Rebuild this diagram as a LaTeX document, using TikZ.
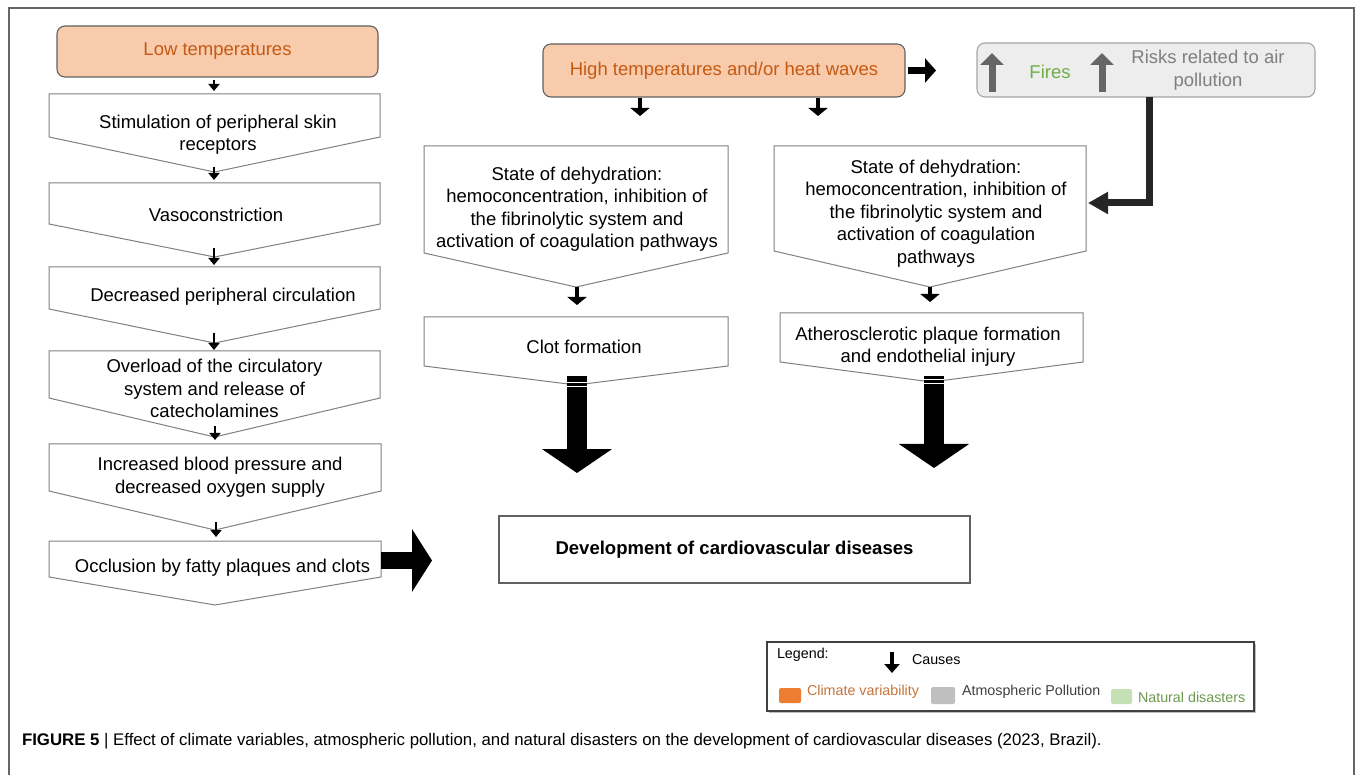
\documentclass[tikz,border=0pt]{standalone}
\usepackage{fontspec}
\setmainfont{Liberation Sans}
\usetikzlibrary{arrows.meta}
\definecolor{peach}{HTML}{F8CBAD}
\definecolor{orangetxt}{HTML}{C55A11}
\definecolor{boxgray}{HTML}{EDEDED}
\definecolor{firesgreen}{HTML}{70AD47}
\definecolor{riskgray}{HTML}{7F7F7F}
\definecolor{chevline}{HTML}{808080}
\definecolor{uparr}{HTML}{666666}
\definecolor{lshaft}{HTML}{262626}
\definecolor{legorange}{HTML}{ED7D31}
\definecolor{leggray}{HTML}{BFBFBF}
\definecolor{leggreen}{HTML}{C5E0B4}
\definecolor{legorangetxt}{HTML}{C5753A}
\definecolor{leggreentxt}{HTML}{6E9A50}
\newcommand\fsz{\fontsize{18.5}{22.5}\selectfont}
\newcommand\lsz{\fontsize{14.3}{17}\selectfont}
\newcommand\csz{\fontsize{16.8}{20}\selectfont}
% name, xl, xr, ytop, yside, ytip
\newcommand\mkchev[6]{%
  \coordinate (#1-nw) at (#2,#4);
  \coordinate (#1-ne) at (#3,#4);
  \coordinate (#1-se) at (#3,#5);
  \coordinate (#1-sw) at (#2,#5);
  \coordinate (#1-tip) at ({(#2+#3)/2},#6);
  \draw[chev] (#1-nw) -- (#1-ne) -- (#1-se) -- (#1-tip) -- (#1-sw) -- cycle;}
\begin{document}
\begin{tikzpicture}[x=1pt,y=-1pt,
  chev/.style={draw=chevline,line width=1pt,fill=white,line join=miter},
  txt/.style={inner sep=0pt,outer sep=0pt,align=center,font=\fsz},
  hotbox/.style={draw=black!62,line width=1.1pt,fill=peach,rounded corners=8pt,inner sep=0pt,outer sep=0pt,text=orangetxt,font=\fsz},
  graybox/.style={draw=black!35,line width=1.1pt,fill=boxgray,rounded corners=8pt,inner sep=0pt,outer sep=0pt},
  plainbox/.style={draw=black!62,line width=1.1pt,fill=white,inner sep=0pt,outer sep=0pt},
  smallarr/.style={draw=black,line width=2pt,-{Triangle[length=7pt,width=11pt]}},
  midarr/.style={draw=black,line width=4pt,-{Triangle[length=8pt,width=19pt]}},
  bigarr/.style={draw=black,line width=20pt,-{Triangle[length=24pt,width=69pt]}},
  uparrow/.style={draw=uparr,line width=7pt,-{Triangle[length=12pt,width=23pt]}},
  legtxt/.style={inner sep=0pt,outer sep=0pt,anchor=west,font=\lsz},
  frameline/.style={draw=black!60,line width=1.3pt}
]
\useasboundingbox (0,0) rectangle (1355,775);
\fill[white] (0,0) rectangle (1355,775);
\draw[frameline] (9,775) -- (9,8) -- (1354,8) -- (1354,775);

% ---------------- left column ----------------
\node[hotbox,minimum width=321pt,minimum height=51pt] (lt) at (217.5,51.5) {Low temperatures};
\mkchev{c1}{49}{380}{94}{137}{172}
\mkchev{c2}{49}{380}{183}{224}{257}
\mkchev{c3}{49}{380}{267}{309}{343}
\mkchev{c4}{49}{380}{351}{398}{437}
\mkchev{c5}{49}{381}{444}{491}{530}
\mkchev{c6}{49}{381}{541}{577}{605}
\node[txt] (t1) at (218,134.5) {Stimulation of peripheral skin\\receptors};
\node[txt] (t2) at (216,215) {Vasoconstriction};
\node[txt] (t3) at (223,297) {Decreased peripheral circulation};
\node[txt] (t4) at (214.5,388.5) {Overload of the circulatory\\system and release of\\catecholamines};
\node[txt] (t5) at (220,477) {Increased blood pressure and\\decreased oxygen supply};
\node[txt] (t6) at (222.5,568) {Occlusion by fatty plaques and clots};

\coordinate (a1s) at (214,80);  \coordinate (a1e) at (214,91);
\coordinate (a2s) at (214,167); \coordinate (a2e) at (214,180);
\coordinate (a3s) at (214,248); \coordinate (a3e) at (214,265);
\coordinate (a4s) at (214,333); \coordinate (a4e) at (214,350);
\coordinate (a5s) at (215,426); \coordinate (a5e) at (215,440);
\coordinate (a6s) at (216,522); \coordinate (a6e) at (216,537);
\foreach \i in {1,...,6} {\draw[smallarr] (a\i s) -- (a\i e);}

\coordinate (ras) at (381,560.5); \coordinate (rae) at (432,560.5);
\draw[draw=black,line width=17pt,-{Triangle[length=20pt,width=62pt]}] (ras) -- (rae);

% ---------------- middle ----------------
\node[hotbox,minimum width=362pt,minimum height=53pt] (ht) at (724,70.5) {High temperatures and/or heat waves};
\mkchev{ca}{424}{728}{146}{253}{287}
\mkchev{cb}{774}{1086}{146}{251}{287}
\mkchev{cc}{424}{728}{317}{366}{385}
\mkchev{cd}{780}{1083}{313}{362}{382}
\node[txt] (ta) at (577,209) {State of dehydration:\\hemoconcentration, inhibition of\\the fibrinolytic system and\\activation of coagulation pathways};
\node[txt] (tb) at (936,213.5) {State of dehydration:\\hemoconcentration, inhibition of\\the fibrinolytic system and\\activation of coagulation\\pathways};
\node[txt] (tc) at (584,347) {Clot formation};
\node[txt] (td) at (928,346.5) {Atherosclerotic plaque formation\\and endothelial injury};

\coordinate (m1s) at (640,98);  \coordinate (m1e) at (640,116);
\coordinate (m2s) at (818,98);  \coordinate (m2e) at (818,116);
\coordinate (m3s) at (577,287); \coordinate (m3e) at (577,305);
\coordinate (m4s) at (930,287); \coordinate (m4e) at (930,302);
\foreach \i in {1,...,4} {\draw[midarr] (m\i s) -- (m\i e);}

% right arrow to fires box
\coordinate (hrs) at (908,70.5); \coordinate (hre) at (936,70.5);
\draw[draw=black,line width=7pt,-{Triangle[length=11pt,width=24pt]}] (hrs) -- (hre);

% big down arrows
\coordinate (b1s) at (577,376); \coordinate (b1e) at (577,473);
\coordinate (b2s) at (934,376); \coordinate (b2e) at (934,468);
\draw[bigarr] (b1s) -- (b1e);
\draw[bigarr] (b2s) -- (b2e);
\draw[white,line width=0.8pt] (567,382) -- (587,382) (567,386.5) -- (587,386.5);
\draw[white,line width=0.8pt] (924,379) -- (944,379) (924,383.5) -- (944,383.5);

% fires box
\node[graybox,minimum width=338pt,minimum height=54pt] (fb) at (1146,70) {};
\coordinate (u1s) at (992,92); \coordinate (u1e) at (992,53);
\coordinate (u2s) at (1102,92); \coordinate (u2e) at (1102,53);
\draw[uparrow] (u1s) -- (u1e);
\draw[uparrow] (u2s) -- (u2e);
\node[txt,text=firesgreen] (fires) at (1050,72) {Fires};
\node[txt,text=riskgray] (risk) at (1208,70) {Risks related to air\\pollution};

% L-shaped arrow
\coordinate (ls) at (1149,97); \coordinate (lc) at (1149,203); \coordinate (le) at (1088,203);
\draw[draw=lshaft,line width=7pt,line join=miter,-{Triangle[length=20pt,width=21pt]}] (ls) -- (lc) -- (le);

% development box
\node[plainbox,minimum width=471pt,minimum height=67pt,font=\fsz\bfseries] (dev) at (734.5,549.5) {Development of cardiovascular diseases};

% ---------------- legend ----------------
\fill[black!25] (769,644) rectangle (1256,713);
\node[draw=black!75,line width=1.3pt,fill=white,minimum width=487pt,minimum height=69pt,inner sep=0pt,outer sep=0pt] (leg) at (1010.5,676.5) {};
\node[legtxt] (legl) at (777,655) {Legend:};
\coordinate (lgs) at (892,652); \coordinate (lge) at (892,673);
\draw[draw=black,line width=4pt,-{Triangle[length=9pt,width=15pt]}] (lgs) -- (lge);
\node[legtxt] (legc) at (912,660) {Causes};
\fill[legorange,rounded corners=2pt] (779,688) rectangle (801,703);
\fill[leggray,rounded corners=2pt] (931,687) rectangle (955,704);
\fill[leggreen,rounded corners=2pt] (1111,689) rectangle (1132,704);
\node[legtxt,text=legorangetxt] (lg1) at (807,692) {Climate variability};
\node[legtxt,text=black!75] (lg2) at (962,692) {Atmospheric Pollution};
\node[legtxt,text=leggreentxt] (lg3) at (1138,697) {Natural disasters};

% ---------------- caption ----------------
\node[inner sep=0pt,outer sep=0pt,anchor=west,font=\csz] (cap) at (22,741) {\textbf{FIGURE 5} | Effect of climate variables, atmospheric pollution, and natural disasters on the development of cardiovascular diseases (2023, Brazil).};
\end{tikzpicture}
\end{document}
